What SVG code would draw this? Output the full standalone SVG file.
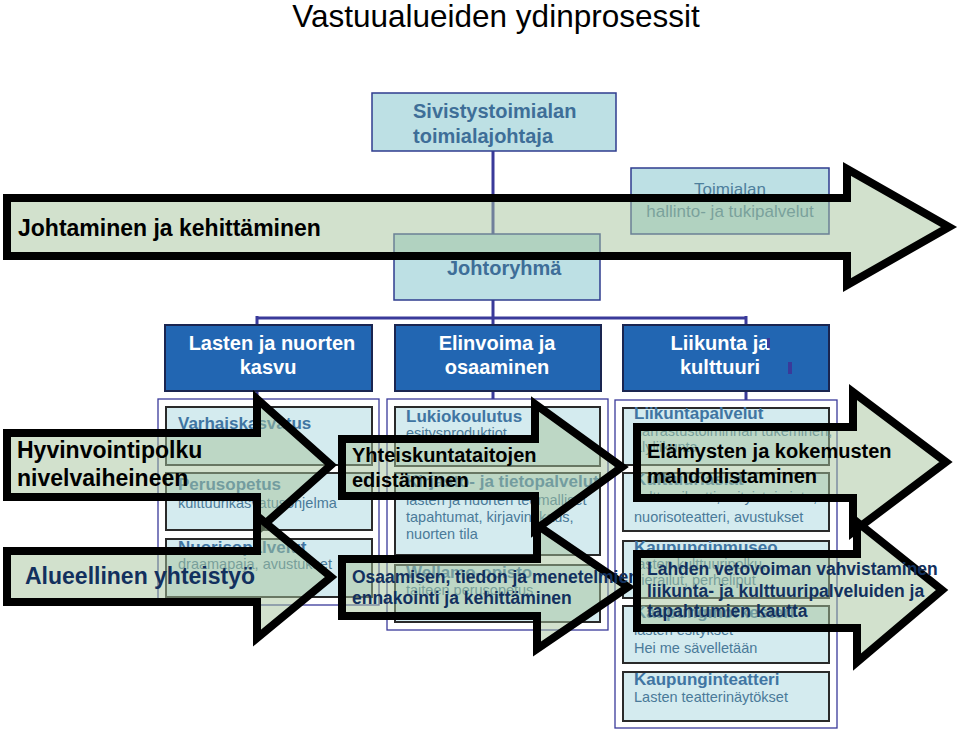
<svg xmlns="http://www.w3.org/2000/svg" width="959" height="736" viewBox="0 0 959 736">
<defs>
<style>
text{font-family:"Liberation Sans",Arial,sans-serif}
.title{font-size:31.5px;fill:#000}
.top{fill:#bde0e4;stroke:#2f3d8f;stroke-width:1.5}
.topt{font-size:20px;font-weight:bold;fill:#3e6e98}
.topr{font-size:17px;fill:#4e7f9c}
.mid{fill:#2266b2;stroke:#1a2550;stroke-width:2}
.midt{font-size:20px;font-weight:bold;fill:#fff;text-anchor:middle}
.cont{fill:#fff;stroke:#3a3a9a;stroke-width:1.3}
.box{fill:#d4ebef;stroke:#2a2a2a;stroke-width:2}
.bt{font-size:17px;font-weight:bold;fill:#4075a2}
.st{font-size:14.5px;fill:#4a7a99}
.con{stroke:#3a3a9a;stroke-width:3;fill:none}
.mark{fill:#3a3a9a}
.arr{fill:#a5c49c;fill-opacity:0.5;stroke:#000;stroke-width:8;stroke-linejoin:miter;stroke-miterlimit:10}
.ab{font-size:23px;font-weight:bold;fill:#000}
.ab20{font-size:20px;font-weight:bold;fill:#000}
.an{font-size:17.5px;font-weight:bold;fill:#12305e}
.an23{font-size:23px;font-weight:bold;fill:#12305e}
</style>
</defs>
<text class="title" x="496" y="27" text-anchor="middle">Vastuualueiden ydinprosessit</text>

<g id="connectors">
<path class="con" d="M493,151 V234 M493,300 V325 M257,318 H746 M257,316 V333 M746,316 V325"/>
<path class="con" d="M257,391 V407 M493,391 V407 M746,391 V407"/>
</g>

<g id="sivistys">
<rect class="top" x="372" y="93" width="244" height="58"/>
<text class="topt" x="413" y="118">Sivistystoimialan</text>
<text class="topt" x="413" y="143">toimialajohtaja</text>
</g>
<g id="toimialan">
<rect class="top" x="631" y="168" width="198" height="66"/>
<text class="topr" x="730" y="195" text-anchor="middle">Toimialan</text>
<text class="topr" x="730" y="217" text-anchor="middle">hallinto- ja tukipalvelut</text>
</g>
<g id="johtoryhma">
<rect class="top" x="394" y="234" width="206" height="66"/>
<text class="topt" x="447" y="275">Johtoryhmä</text>
</g>

<g id="lasten">
<rect class="mid" x="165" y="325" width="207" height="66"/>
<text class="midt" x="272" y="350">Lasten ja nuorten</text>
<text class="midt" x="268" y="374">kasvu</text>
</g>
<g id="elinvoima">
<rect class="mid" x="395" y="325" width="206" height="66"/>
<text class="midt" x="497" y="350">Elinvoima ja</text>
<text class="midt" x="497" y="374">osaaminen</text>
</g>
<g id="liikunta">
<rect class="mid" x="623" y="325" width="206" height="66"/>
<text class="midt" x="720" y="350">Liikunta ja</text>
<text class="midt" x="720" y="374">kulttuuri</text>
</g>
<g id="connector-marks">
<rect class="mark" x="767" y="338" width="3" height="10"/>
<rect class="mark" x="788" y="362" width="4" height="12"/>
</g>

<g id="col-left">
<rect class="cont" x="158" y="399" width="221" height="206"/>
<rect class="box" x="166" y="407" width="206" height="58"/>
<text class="bt" x="178" y="429">Varhaiskasvatus</text>
<rect class="box" x="166" y="473" width="206" height="57"/>
<text class="bt" x="178" y="490">Perusopetus</text>
<text class="st" x="178" y="508">kulttuurikasvatusohjelma</text>
<rect class="box" x="166" y="539" width="206" height="58"/>
<text class="bt" x="178" y="553">Nuorisopalvelut</text>
<text class="st" x="178" y="569">draamapaja, avustukset</text>
</g>

<g id="col-mid">
<rect class="cont" x="387" y="399" width="221" height="231"/>
<rect class="box" x="395" y="407" width="205" height="59"/>
<text class="bt" x="406" y="422">Lukiokoulutus</text>
<text class="st" x="406" y="438">esitysproduktiot</text>
<rect class="box" x="395" y="473" width="205" height="82"/>
<text class="bt" x="406" y="487">Kirjasto- ja tietopalvelut</text>
<text class="st" x="406" y="505">lasten ja nuorten teemalliset</text>
<text class="st" x="406" y="522">tapahtumat, kirjavinkkaus,</text>
<text class="st" x="406" y="539">nuorten tila</text>
<rect class="box" x="395" y="565" width="205" height="57"/>
<text class="bt" x="406" y="578">Wellamo-opisto</text>
<text class="st" x="406" y="595">taiteen perusopetus</text>
</g>

<g id="col-right">
<rect class="cont" x="615" y="400" width="222" height="328"/>
<rect class="box" x="623" y="408" width="206" height="57"/>
<text class="bt" x="634" y="419">Liikuntapalvelut</text>
<text class="st" x="634" y="436">harrastustoiminnan tukeminen,</text>
<text class="st" x="634" y="452">älyliikunta</text>
<rect class="box" x="623" y="473" width="206" height="58"/>
<text class="bt" x="634" y="485">Kulttuuriasiat</text>
<text class="st" x="634" y="502">kulttuurikortti, erityistoiminta,</text>
<text class="st" x="634" y="522">nuorisoteatteri, avustukset</text>
<rect class="box" x="623" y="541" width="206" height="57"/>
<text class="bt" x="634" y="553">Kaupunginmuseo</text>
<text class="st" x="634" y="569">lasten kulttuuripolku,</text>
<text class="st" x="634" y="585">vierailut, perheliput</text>
<rect class="box" x="623" y="606" width="206" height="57"/>
<text class="bt" x="634" y="618">Kaupunginorkesteri</text>
<text class="st" x="634" y="635">lasten esitykset</text>
<text class="st" x="634" y="653">Hei me sävelletään</text>
<rect class="box" x="623" y="672" width="206" height="49"/>
<text class="bt" x="634" y="685">Kaupunginteatteri</text>
<text class="st" x="634" y="702">Lasten teatterinäytökset</text>
</g>

<g id="arrow-johtaminen">
<path class="arr" d="M7,198 H847 V169 L949,227 L847,285 V256 H7 Z"/>
<text class="ab" x="18" y="236">Johtaminen ja kehittäminen</text>
</g>
<g id="arrow-hyvinvointi">
<path class="arr" d="M7,433 H257 V399 L331,465 L257,531 V497 H7 Z"/>
<text class="ab" x="17" y="458">Hyvinvointipolku</text>
<text class="ab" x="17" y="486">nivelvaiheineen</text>
</g>
<g id="arrow-alueellinen">
<path class="arr" d="M7,551 H257 V516 L331,577 L257,638 V602 H7 Z"/>
<text class="an23" x="25" y="584">Alueellinen yhteistyö</text>
</g>
<g id="arrow-yhteiskunta">
<path class="arr" d="M342,439 H535 V404 L622,467 L535,530 V496 H342 Z"/>
<text class="ab20" x="352" y="462">Yhteiskuntataitojen</text>
<text class="ab20" x="352" y="487">edistäminen</text>
</g>
<g id="arrow-osaamisen">
<path class="arr" d="M342,559 H537 V525 L628,587 L537,649 V616 H342 Z"/>
<text class="an" x="352" y="583">Osaamisen, tiedon ja menetelmien</text>
<text class="an" x="352" y="604">ennakointi ja kehittäminen</text>
</g>
<g id="arrow-elamysten">
<path class="arr" d="M637,427 H853 V392 L946,462 L853,532 V498 H637 Z"/>
<text class="ab20" x="647" y="458">Elämysten ja kokemusten</text>
<text class="ab20" x="647" y="483">mahdollistaminen</text>
</g>
<g id="arrow-lahden">
<path class="arr" d="M637,554 H857 V522 L942,590 L857,662 V628 H637 Z"/>
<text class="an" x="647" y="575">Lahden vetovoiman vahvistaminen</text>
<text class="an" x="647" y="597">liikunta- ja kulttuuripalveluiden ja</text>
<text class="an" x="647" y="617">tapahtumien kautta</text>
</g>
</svg>
